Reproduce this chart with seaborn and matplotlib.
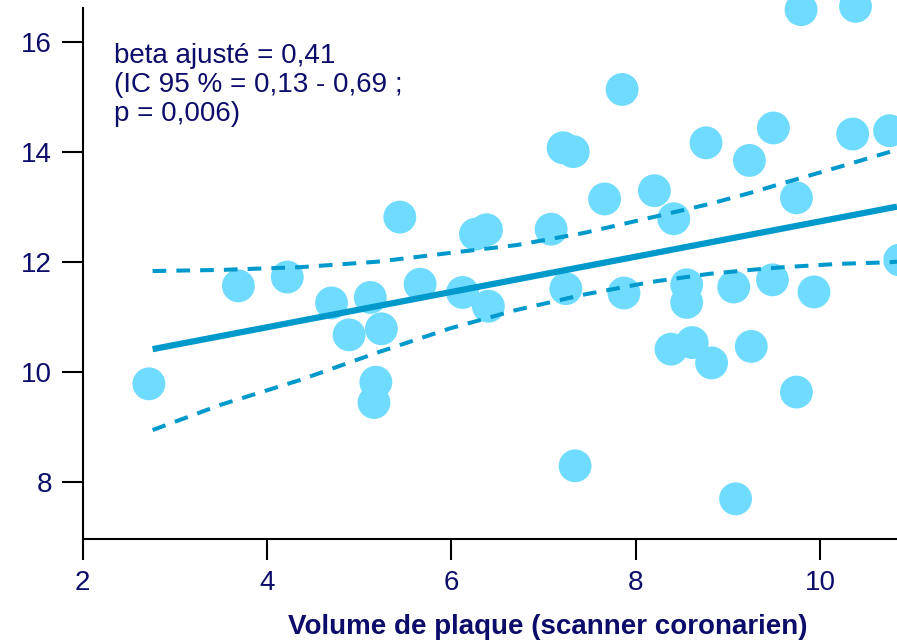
import matplotlib
matplotlib.use("Agg")
import matplotlib.pyplot as plt
import seaborn as sns
import pandas as pd

# Scatter data
plaque = [2.72, 3.69, 4.22, 4.70, 5.12, 5.66, 5.44, 4.89, 5.24, 5.18, 5.16,
          6.12, 6.40, 6.26, 6.38, 7.08, 7.24, 7.21, 7.32, 7.85, 7.66, 8.20,
          8.41, 7.87, 8.55, 8.55, 8.76, 9.06, 9.23, 9.49, 9.48, 9.74, 9.93,
          10.35, 10.75, 10.86, 9.79, 10.38, 8.38, 8.61, 8.82, 9.25, 9.74,
          7.34, 9.08]
outcome = [9.78, 11.56, 11.72, 11.25, 11.35, 11.59, 12.81, 10.67, 10.78, 9.81, 9.44,
           11.44, 11.19, 12.50, 12.58, 12.59, 11.51, 14.07, 14.00, 15.13, 13.14, 13.29,
           12.78, 11.43, 11.58, 11.26, 14.16, 11.54, 13.84, 14.43, 11.67, 13.16, 11.45,
           14.32, 14.38, 12.03, 16.58, 16.64, 10.41, 10.53, 10.16, 10.46, 9.63,
           8.29, 7.69]

# Fitted line
fit_x = [2.76, 10.83]
fit_y = [10.41, 13.00]

# Confidence band curves
ci_x = [2.76, 3.5, 4.36, 5.2, 5.99, 6.7, 7.43, 8.16, 8.8, 9.24, 9.6, 10.2, 10.76, 10.83]
ci_upper = [11.83, 11.85, 11.90, 12.00, 12.16, 12.30, 12.52, 12.80, 13.05, 13.25, 13.43, 13.72, 14.00, 14.07]
ci_lower = [8.94, 9.40, 9.85, 10.35, 10.79, 11.12, 11.40, 11.63, 11.78, 11.85, 11.90, 11.96, 11.99, 12.00]

navy = "#0c0c6a"
line_col = "#0099cc"
pt_col = "#6fdcff"

sns.set_theme(style="ticks")
plt.rcParams['font.family'] = ['Liberation Sans', 'DejaVu Sans']

fig = plt.figure(figsize=(8.97, 6.41), dpi=100)
ax = fig.add_axes([82.5/897, (641-539)/641, 1 - 82.5/897, (539-8)/641])

pts = pd.DataFrame({"x": plaque, "y": outcome})
fit = pd.DataFrame({"x": fit_x, "y": fit_y})
ci = pd.DataFrame({"x": ci_x, "up": ci_upper, "lo": ci_lower})

sns.scatterplot(data=pts, x="x", y="y", ax=ax, s=560, color=pt_col,
                edgecolor="none", linewidth=0, zorder=2, clip_on=False)
sns.lineplot(data=fit, x="x", y="y", ax=ax, color=line_col, linewidth=4.5,
             zorder=3, solid_capstyle="butt")
sns.lineplot(data=ci, x="x", y="up", ax=ax, color=line_col, linewidth=2.9,
             dashes=False, zorder=3)
sns.lineplot(data=ci, x="x", y="lo", ax=ax, color=line_col, linewidth=2.9,
             dashes=False, zorder=3)
for l in ax.lines[1:]:
    l.set_linestyle((0, (3.4, 2.5)))
    l.set_dash_capstyle("butt")

ax.set_xlim(2, 10.83)
ax.set_ylim(6.96, 16.61)
ax.set_xticks([2, 4, 6, 8, 10])
ax.set_yticks([8, 10, 12, 14, 16])
ax.tick_params(axis="both", length=15, width=1.5, pad=7, labelsize=20,
               labelcolor=navy, color="black", direction="out")
for side in ["top", "right"]:
    ax.spines[side].set_visible(False)
for side in ["left", "bottom"]:
    ax.spines[side].set_linewidth(1.5)
    ax.spines[side].set_color("black")

ax.set_ylabel("")
ax.set_xlabel("Volume de plaque (scanner coronarien)", fontsize=20,
              fontweight="bold", color=navy)
ax.xaxis.set_label_coords(0.571, -0.141)

fig.text(114/897, (641-43)/641, "beta ajusté = 0,41\n(IC 95 % = 0,13 - 0,69 ;\np = 0,006)",
         fontsize=20, color=navy, va="top", ha="left", linespacing=1.15)

fig.savefig("out.png", dpi=100)
